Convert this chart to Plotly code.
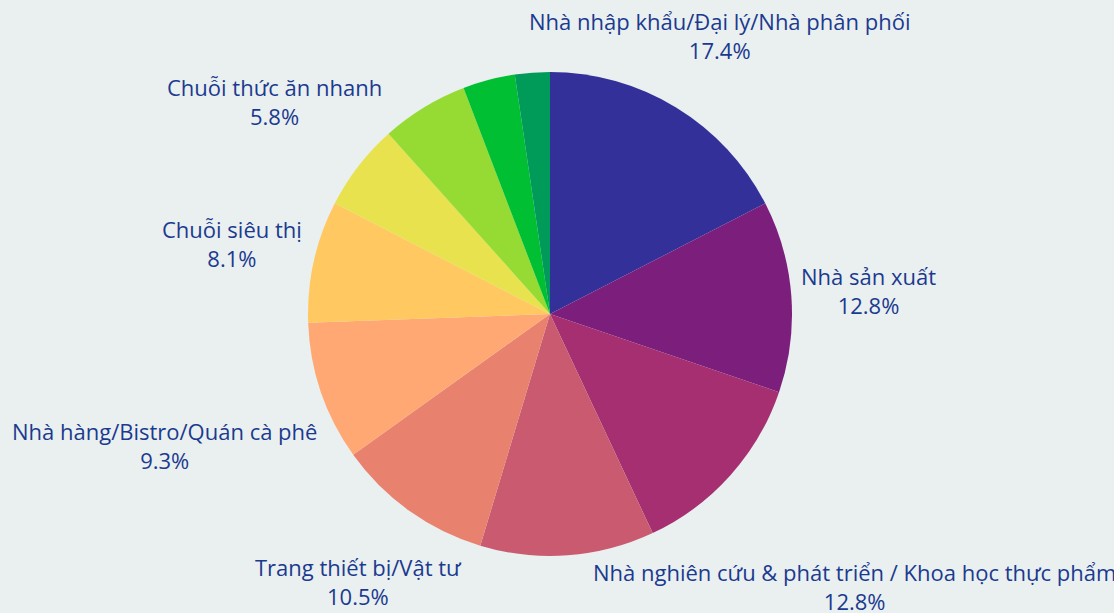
import math
import plotly.graph_objects as go

# ---- data ----
labels = [
    "Nhà nhập khẩu/Đại lý/Nhà phân phối",
    "Nhà sản xuất",
    "Nhà nghiên cứu & phát triển / Khoa học thực phẩm",
    "Giáo dục/Đào tạo",
    "Trang thiết bị/Vật tư",
    "Nhà hàng/Bistro/Quán cà phê",
    "Chuỗi siêu thị",
    "Chuỗi thức ăn nhanh",
    "Khách sạn/Resort",
    "Truyền thông/Báo chí",
    "Khác",
]
values = [15, 11, 11, 10, 9, 8, 7, 5, 5, 3, 2]
show_label = [True, True, True, False, True, True, True, True, False, False, False]

# ---- style ----
colors = [
    "#33309a", "#7b1e7c", "#a52f70", "#ca5a70", "#e8826f", "#ffa873",
    "#ffc860", "#e8e24e", "#95db33", "#00bf32", "#009b58",
]
label_dist = [1.347, 1.321, 1.69, 1.0, 1.361, 1.682, 1.345, 1.439, 1.0, 1.0, 1.0]
W, H = 1114, 613
ML, MR, MT, MB = 0, 14, 72, 57
TEXT_COLOR = "#1b3a8f"
FONT = "Open Sans"

fig = go.Figure(go.Pie(
    labels=labels,
    values=values,
    sort=False,
    direction="clockwise",
    rotation=0,
    marker=dict(colors=colors, line=dict(width=0)),
    textinfo="none",
    showlegend=False,
    domain=dict(x=[0, 1], y=[0, 1]),
))

# label annotations placed along each slice's mid-angle
pw, ph = W - ML - MR, H - MT - MB
radius = min(pw, ph) / 2
total = sum(values)
cum = 0
annotations = []
for lab, v, show, d in zip(labels, values, show_label, label_dist):
    mid = (cum + v / 2) / total * 2 * math.pi
    cum += v
    if not show:
        continue
    dx = radius * d * math.sin(mid)
    dy = radius * d * math.cos(mid)
    annotations.append(dict(
        x=0.5 + dx / pw, y=0.5 + dy / ph,
        xref="paper", yref="paper",
        xanchor="center", yanchor="middle",
        text=f"{lab}<br>{v / total * 100:.1f}%",
        showarrow=False,
        font=dict(family=FONT, size=22, color=TEXT_COLOR),
        align="center",
    ))

fig.update_layout(
    width=W, height=H,
    margin=dict(l=ML, r=MR, t=MT, b=MB),
    paper_bgcolor="#eaf0f0",
    plot_bgcolor="#eaf0f0",
    font=dict(family=FONT, color=TEXT_COLOR),
    annotations=annotations,
)

fig.write_html(
    "out.html",
    config={"displayModeBar": False},
    post_script="document.body.style.margin='0';document.body.style.overflow='hidden';",
)
